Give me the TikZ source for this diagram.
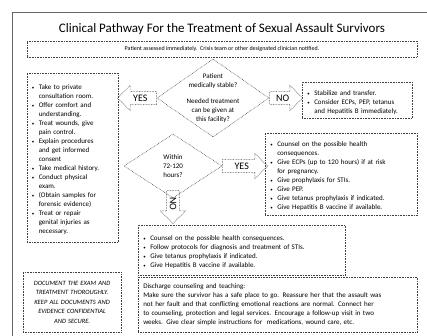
\documentclass[tikz,border=0pt]{standalone}
\usepackage{fontspec}
\setmainfont{Carlito}
\usepackage{graphicx}
\usepackage{tikz}
\usetikzlibrary{shapes.geometric,shapes.arrows}

\newcommand{\bul}{\par\noindent\hangindent=7pt\hangafter=1\makebox[7pt][l]{\scalebox{.7}{\textbullet}}}

\begin{document}
\begin{tikzpicture}[x=1pt,y=-1pt,
  dots/.style={draw=black!75,line width=0.5pt,dash pattern=on 0.7pt off 0.9pt},
  listbox/.style={dots,anchor=north west,align=left,inner xsep=5pt,inner ysep=3pt,
    font=\fontsize{7}{9}\selectfont},
  dia/.style={dots,diamond,inner sep=0pt},
  diatext/.style={align=center,font=\fontsize{7}{9}\selectfont},
  blockarrow/.style={dots,single arrow,single arrow head extend=6pt,
    inner xsep=2pt,inner ysep=3pt,anchor=tail,font=\fontsize{10}{12}\selectfont}]
 \useasboundingbox (0,0) rectangle (427,336);
 \draw[black!60,line width=0.7pt] (12,336) -- (12,12) -- (427,12);
 \node[font=\fontsize{13}{15}\selectfont] (title) at (222,29) {Clinical Pathway For the Treatment of Sexual Assault Survivors};
 \node[dots,minimum width=390,minimum height=16,inner sep=0pt,font=\fontsize{6}{7}\selectfont] (assess) at (222,49)
  {Patient assessed immediately.\ \ Crisis team or other designated clinician notified.};
 % first decision
 \node[dia,minimum width=112,minimum height=78] (stable) at (213,98) {};
 \node[diatext] (stabletxt) at (stable.center) {Patient\\medically stable?\\[7pt]Needed treatment\\can be given at\\this facility?};
 \node[blockarrow,shape border rotate=180,minimum height=39] (yesleft) at (stable.west) {YES};
 \node[blockarrow,minimum height=33] (noright) at (stable.east) {NO};
 % second decision
 \node[dia,minimum width=98,minimum height=64] (hours) at (173,166) {};
 \node[diatext] (hourstxt) at (hours.center) {Within\\72-120\\hours?};
 \node[blockarrow,minimum height=45] (yesright) at (hours.east) {YES};
 \node[blockarrow,rotate=-90,minimum height=33] (nodown) at ([yshift=8pt]hours.south) {NO};
 % lists
 \node[listbox,text width=82,minimum height=169,inner xsep=4.5pt] (care) at (27,73)
  {\bul Take to private\newline consultation room.
   \bul Offer comfort and\newline understanding.
   \bul Treat wounds, give\newline pain control.
   \bul Explain procedures\newline and get informed\newline consent
   \bul Take medical history.
   \bul Conduct physical\newline exam.
   \bul (Obtain samples for\newline forensic evidence)
   \bul Treat or repair\newline genital injuries as\newline necessary.\par};
 \node[listbox,text width=100,minimum height=36] (transfer) at (302,82)
  {\bul Stabilize and transfer.
   \bul Consider ECPs, PEP, tetanus\newline and Hepatitis B immediately.\par};
 \node[listbox,text width=142,minimum height=82] (ecp) at (265,133)
  {\bul Counsel on the possible health\newline consequences.
   \bul Give ECPs (up to 120 hours) if at risk\newline for pregnancy.
   \bul Give prophylaxis for STIs.
   \bul Give PEP.
   \bul Give tetanus prophylaxis if indicated.
   \bul Give Hepatitis B vaccine if available.\par};
 \node[listbox,text width=197,minimum height=50] (followup) at (138,225)
  {\bul Counsel on the possible health consequences.
   \bul Follow protocols for diagnosis and treatment of STIs.
   \bul Give tetanus prophylaxis if indicated.
   \bul Give Hepatitis B vaccine if available.\par};
 % bottom row
 \node[dots,anchor=north west,text width=91,minimum height=60,align=center,
  font=\fontsize{6.5}{9.5}\selectfont\itshape] (record) at (23,272)
  {DOCUMENT THE EXAM AND\\TREATMENT THOROUGHLY.\\KEEP ALL DOCUMENTS AND\\EVIDENCE CONFIDENTIAL\\AND SECURE.};
 \node[listbox,text width=269,minimum height=55] (discharge) at (138,277)
  {Discharge counseling and teaching:\\
   Make sure the survivor has a safe place to go. Reassure her that the assault was\\
   not her fault and that conflicting emotional reactions are normal. Connect her\\
   to counseling, protection and legal services. Encourage a follow-up visit in two\\
   weeks. Give clear simple instructions for\ \ medications, wound care, etc.};
\end{tikzpicture}
\end{document}
